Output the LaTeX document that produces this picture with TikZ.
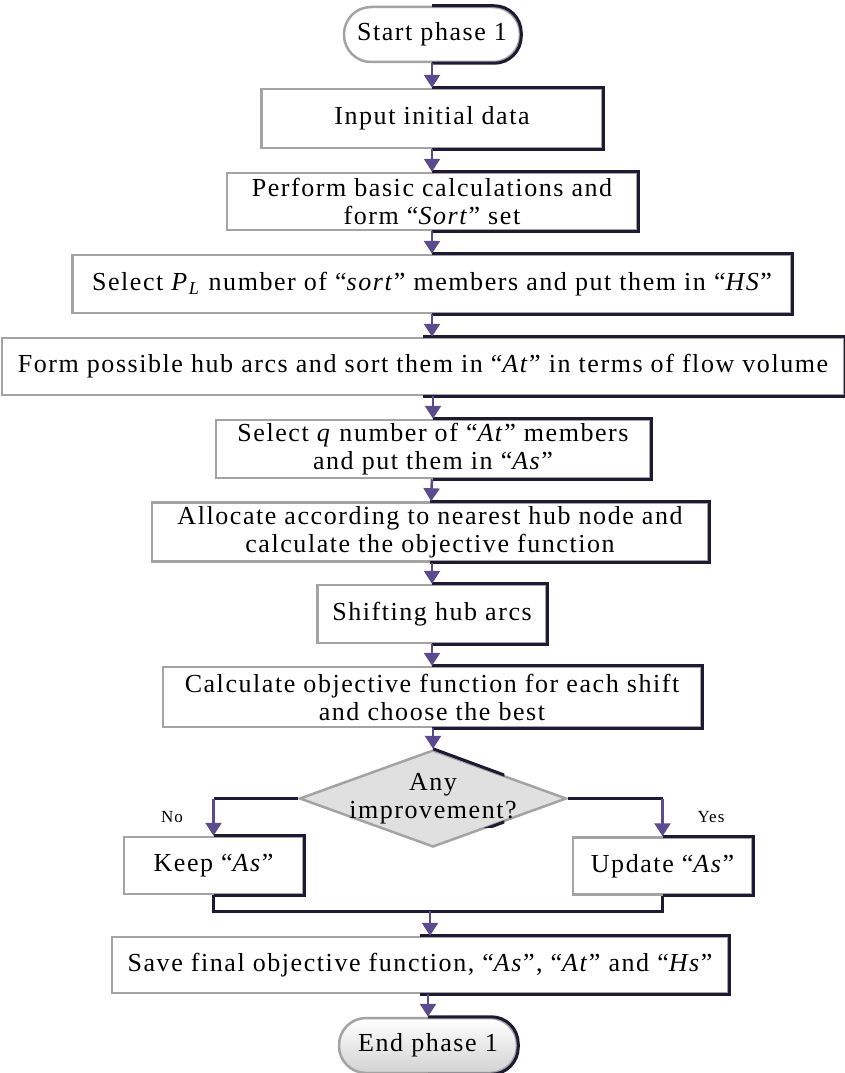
\documentclass[tikz,border=0pt]{standalone}
\usepackage{fontspec}
\setmainfont[LetterSpace=6]{Liberation Serif}
\usepackage{tikz}
\usetikzlibrary{shapes.geometric, arrows.meta, positioning, calc}
\definecolor{flowpurple}{HTML}{5B4A8E}
\definecolor{edgedark}{HTML}{1E1A33}
\definecolor{edgegray}{HTML}{A3A3A3}
\definecolor{decfill}{HTML}{E0E0E0}
\tikzset{
  stepbox/.style={rectangle, draw=edgegray, line width=2.5pt, fill=white,
    font=\fontsize{26}{28}\selectfont, align=center, inner sep=2pt},
  term/.style={stepbox, rounded corners=27pt},
  dec/.style={diamond, draw=edgegray, line width=2.5pt, fill=decfill, inner sep=0pt},
  declbl/.style={font=\fontsize{26}{28}\selectfont, align=center, inner sep=0pt},
  ar/.style={-{Triangle[width=16pt,length=13pt]}, draw=flowpurple, fill=flowpurple, line width=2.5pt},
  ln/.style={draw=edgedark, line width=3pt},
  lb/.style={font=\fontsize{17}{19}\selectfont},
}

\begin{document}
\begin{tikzpicture}[x=1pt, y=-1pt]
  \useasboundingbox (0,0) rectangle (845,1073);

  \node[term, minimum width=176pt, minimum height=55pt] (start) at (432,34.5) {Start phase 1};
  \node[stepbox, minimum width=341pt, minimum height=59pt] (input) at (432,118.5) {Input initial data};
  \node[stepbox, minimum width=410pt, minimum height=57pt] (perform) at (432,201.5)
    {Perform basic calculations and\\form “\textit{Sort}” set};
  \node[stepbox, minimum width=719pt, minimum height=58pt] (selpl) at (432,284)
    {Select \textit{P}\textsubscript{\textit{L}} number of “\textit{sort}” members and put them in “\textit{HS}”};
  \node[stepbox, minimum width=842pt, minimum height=57pt] (form) at (423,366.5)
    {Form possible hub arcs and sort them in “\textit{At}” in terms of flow volume};
  \node[stepbox, minimum width=434pt, minimum height=58pt] (selq) at (433,449)
    {Select \textit{q} number of “\textit{At}” members\\and put them in “\textit{As}”};
  \node[stepbox, minimum width=556pt, minimum height=59pt] (alloc) at (430,532)
    {Allocate according to nearest hub node and\\calculate the objective function};
  \node[stepbox, minimum width=229pt, minimum height=58pt] (shift) at (432,614) {Shifting hub arcs};
  \node[stepbox, minimum width=538pt, minimum height=60pt] (calc) at (432,697)
    {Calculate objective function for each shift\\and choose the best};
  \node[dec, minimum width=267pt, minimum height=97pt,
        label={[declbl]center:{Any\\improvement?}}] (anyimp) at (433,798.5) {};
  \node[stepbox, minimum width=179pt, minimum height=57pt] (keep) at (213.5,865.5) {Keep “\textit{As}”};
  \node[stepbox, minimum width=179pt, minimum height=57pt] (update) at (662.5,866) {Update “\textit{As}”};
  \coordinate (join) at (430,911);
  \node[stepbox, minimum width=616pt, minimum height=56pt] (save) at (420,965)
    {Save final objective function, “\textit{As}”, “\textit{At}” and “\textit{Hs}”};
  \node[term, minimum width=178pt, minimum height=55pt, top color=white, bottom color=gray!35] (finish) at (428,1045.5) {End phase 1};

  \node[lb] (nolbl) at (172,817) {No};
  \node[lb] (yeslbl) at (711,817) {Yes};

  % darker lower right edges
  \foreach \n in {input,perform,selpl,form,selq,alloc,shift,calc,keep,update,save}
    \draw[ln] (\n.north) -- (\n.north east) -- (\n.south east) -- (\n.south);
  \foreach \n in {start,finish} {
    \begin{scope}
      \clip ([yshift=4pt]\n.north) rectangle ([xshift=4pt,yshift=-4pt]\n.south east);
      \draw[ln, rounded corners=27pt] (\n.south west) rectangle (\n.north east);
    \end{scope}
  }
  \begin{scope}
    \clip ([yshift=4pt]anyimp.north) rectangle ([xshift=4pt,yshift=-4pt]anyimp.south east);
    \draw[ln] (anyimp.north) -- (anyimp.east) -- (anyimp.south);
  \end{scope}

  \draw[ar] (start) -- (input);
  \draw[ar] (input) -- (perform);
  \draw[ar] (perform) -- (selpl);
  \draw[ar] (selpl.south) -- (selpl.south |- form.north);
  \draw[ar] (selq.north |- form.south) -- (selq.north);
  \draw[ar] (selq) -- (alloc);
  \draw[ar] (alloc.south -| shift) -- (shift);
  \draw[ar] (shift) -- (calc);
  \draw[ar] (calc.south -| anyimp) -- (anyimp.north);

  \draw[ln] (anyimp.west) -- (anyimp.west -| keep.north);
  \draw[ar] (anyimp.west -| keep.north) -- (keep.north);
  \draw[ln] (anyimp.east) -- (anyimp.east -| update.north);
  \draw[ar] (anyimp.east -| update.north) -- (update.north);

  \draw[ln] (keep.south) |- (join) -| (update.south);
  \draw[ar] (join) -- (join |- save.north);
  \draw[ar] (save.south -| finish) -- (finish);
\end{tikzpicture}
\end{document}
